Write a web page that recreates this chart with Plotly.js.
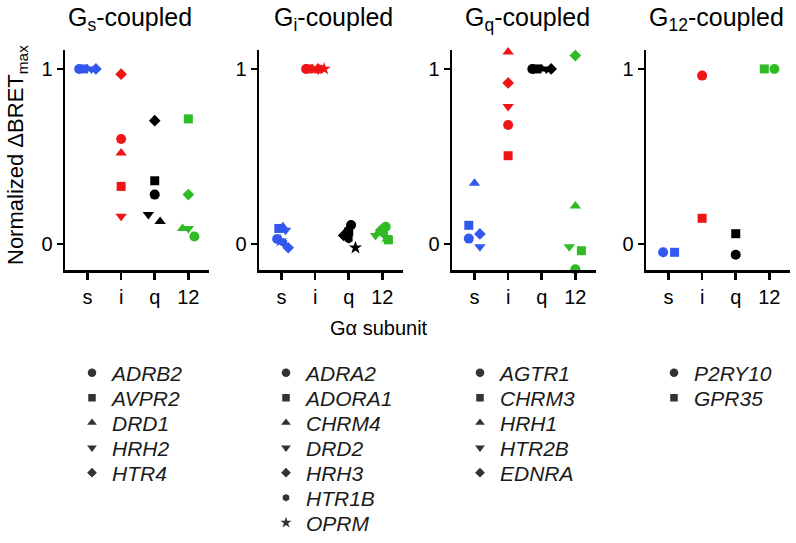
<!DOCTYPE html>
<html><head><meta charset="utf-8">
<script src="https://cdn.plot.ly/plotly-3.0.1.min.js"></script>
<style>html,body{margin:0;padding:0;background:#fff}</style>
</head><body>
<div id="chart" style="width:796px;height:543px"></div>
<script>
// ---------- DATA ----------
const subunits = ['s', 'i', 'q', '12'];
const panelTitles = ['G<sub>s</sub>-coupled', 'G<sub>i</sub>-coupled', 'G<sub>q</sub>-coupled', 'G<sub>12</sub>-coupled'];

// Gs-coupled receptors: values for [s, i, q, 12]
const gsGenes = ['ADRB2', 'AVPR2', 'DRD1', 'HRH2', 'HTR4'];
const gsValues = [
  [1.00, 0.60, 0.283, 0.044],
  [1.00, 0.33, 0.362, 0.715],
  [1.00, 0.52, 0.13, 0.09],
  [1.00, 0.16, 0.17, 0.09],
  [1.00, 0.97, 0.705, 0.283]
];
// Gi-coupled receptors
const giGenes = ['ADRA2', 'ADORA1', 'CHRM4', 'DRD2', 'HRH3', 'HTR1B', 'OPRM'];
const giValues = [
  [0.03, 1.00, 0.11, 0.10],
  [0.09, 1.00, 0.07, 0.025],
  [0.10, 1.00, 0.08, 0.07],
  [0.08, 1.00, 0.05, 0.05],
  [-0.02, 1.00, 0.05, 0.08],
  [0.01, 1.00, 0.03, 0.06],
  [0.02, 1.00, -0.02, 0.04]
];
// Gq-coupled receptors
const gqGenes = ['AGTR1', 'CHRM3', 'HRH1', 'HTR2B', 'EDNRA'];
const gqValues = [
  [0.032, 0.68, 1.00, -0.143],
  [0.108, 0.505, 1.00, -0.037],
  [0.348, 1.097, 1.00, 0.218],
  [-0.014, 0.786, 1.00, -0.014],
  [0.059, 0.92, 1.00, 1.076]
];
// G12-coupled receptors
const g12Genes = ['P2RY10', 'GPR35'];
const g12Values = [
  [-0.046, 0.962, -0.06, 1.00],
  [-0.046, 0.148, 0.06, 1.00]
];

// ---------- STYLE / LAYOUT HELPERS ----------
// horizontal scatter offsets (in category units) so overlapping points are visible
const gsJitter = [
  [-0.25, 0, 0, 0.18], [-0.12, 0, 0, 0], [0, 0, 0.16, -0.17], [0.12, 0, -0.19, 0], [0.25, 0, 0, 0]
];
const giJitter = [
  [-0.13, -0.27, 0.07, 0.10], [-0.08, -0.18, 0.0, 0.18], [0.04, -0.09, -0.05, -0.10],
  [0.12, 0.0, -0.10, -0.20], [0.20, 0.09, -0.15, -0.05], [0.05, 0.18, 0.0, 0.05], [-0.03, 0.27, 0.20, 0.10]
];
const gqJitter = [
  [-0.17, 0, -0.28, 0], [-0.17, 0, -0.14, 0.18], [0, 0, 0.0, 0], [0.16, 0, 0.14, -0.18], [0.16, 0, 0.28, 0]
];
const g12Jitter = [
  [-0.16, 0, 0, 0.15], [0.18, 0, 0, -0.15]
];

const colors = ['#3358f0', '#f01414', '#000000', '#2fbb24'];
const symbols = ['circle', 'square', 'triangle-up', 'triangle-down', 'diamond', 'hexagon', 'star'];
const symSize = {'circle': 10, 'square': 9, 'triangle-up': 10, 'triangle-down': 10, 'diamond': 9, 'hexagon': 9, 'star': 10};
const FONT = 'Arial, "Liberation Sans", sans-serif';

const panels = [
  {genes: gsGenes, values: gsValues, jitter: gsJitter},
  {genes: giGenes, values: giValues, jitter: giJitter},
  {genes: gqGenes, values: gqValues, jitter: gqJitter},
  {genes: g12Genes, values: g12Values, jitter: g12Jitter}
];

const W = 796, H = 543;
const axisLeftPx = [65, 259, 452, 646];
const axisWidthPx = 143.5;
const yTopPx = 50, yBotPx = 270;
const legendMarkerPx = [92, 286, 480, 674];
const legendTopRowPx = 373, legendRowGapPx = 25;

const traces = [];
const layout = {
  width: W, height: H,
  margin: {l: 0, r: 0, t: 0, b: 0, autoexpand: false},
  paper_bgcolor: '#fff', plot_bgcolor: '#fff',
  showlegend: true,
  font: {family: FONT, color: '#000'},
  annotations: []
};

let legCount = 0;
panels.forEach((p, pi) => {
  const sfx = pi === 0 ? '' : String(pi + 1);
  const xa = 'x' + sfx, ya = 'y' + sfx;
  p.genes.forEach((g, gi) => {
    const sym = symbols[gi];
    traces.push({
      type: 'scatter', mode: 'markers',
      x: subunits.map((s, k) => k + p.jitter[gi][k]),
      y: p.values[gi],
      xaxis: xa, yaxis: ya,
      cliponaxis: false,
      showlegend: false,
      hoverinfo: 'skip',
      marker: {symbol: sym, size: symSize[sym], color: colors, line: {width: 0}}
    });
    // legend entry (neutral grey marker), one small legend per row
    legCount++;
    const legName = legCount === 1 ? 'legend' : 'legend' + legCount;
    traces.push({
      type: 'scatter', mode: 'markers',
      x: [null], y: [null],
      xaxis: xa, yaxis: ya,
      name: '<i>' + g + '</i>',
      legend: legName,
      showlegend: true,
      marker: {symbol: sym, size: symSize[sym] - 1.5, color: '#333333'}
    });
    layout[legName] = {
      x: (legendMarkerPx[pi] - 20) / W, xanchor: 'left',
      y: (H - (legendTopRowPx + gi * legendRowGapPx)) / H, yanchor: 'middle',
      bgcolor: 'rgba(0,0,0,0)', borderwidth: 0,
      font: {family: FONT, size: 21, color: '#1a1a1a'},
      itemclick: false, itemdoubleclick: false
    };
  });

  layout['xaxis' + sfx] = {
    domain: [axisLeftPx[pi] / W, (axisLeftPx[pi] + axisWidthPx) / W],
    anchor: ya,
    range: [-0.67, 3.6],
    tickmode: 'array', tickvals: [0, 1, 2, 3], ticktext: subunits,
    ticks: 'outside', ticklen: 7, tickwidth: 2.5, tickcolor: '#000',
    showline: true, linewidth: 2.5, linecolor: '#000',
    showgrid: false, zeroline: false,
    tickfont: {family: FONT, size: 20, color: '#000'},
    fixedrange: true
  };
  layout['yaxis' + sfx] = {
    domain: [(H - yBotPx) / H, (H - yTopPx) / H],
    anchor: xa,
    range: [-0.147, 1.108],
    tickmode: 'array', tickvals: [0, 1], ticktext: ['0', '1'],
    ticks: 'outside', ticklen: 6, tickwidth: 2.5, tickcolor: '#000',
    showline: true, linewidth: 2.5, linecolor: '#000',
    showgrid: false, zeroline: false,
    tickfont: {family: FONT, size: 20, color: '#000'},
    fixedrange: true
  };
  layout.annotations.push({
    text: panelTitles[pi], xref: 'paper', yref: 'paper',
    x: [130, 333, 527, 716][pi] / W, y: (H - 19) / H,
    xanchor: 'center', yanchor: 'middle', showarrow: false,
    font: {family: FONT, size: 25, color: '#000'}
  });
});

layout.annotations.push({
  text: 'Normalized ΔBRET<sub>max</sub>', xref: 'paper', yref: 'paper',
  x: 17 / W, y: (H - 155) / H, textangle: -90,
  xanchor: 'center', yanchor: 'middle', showarrow: false,
  font: {family: FONT, size: 22, color: '#000'}
});
layout.annotations.push({
  text: 'Gα subunit', xref: 'paper', yref: 'paper',
  x: 379 / W, y: (H - 328) / H,
  xanchor: 'center', yanchor: 'middle', showarrow: false,
  font: {family: FONT, size: 20, color: '#000'}
});

Plotly.newPlot('chart', traces, layout, {staticPlot: true, displayModeBar: false});
</script>
</body></html>
